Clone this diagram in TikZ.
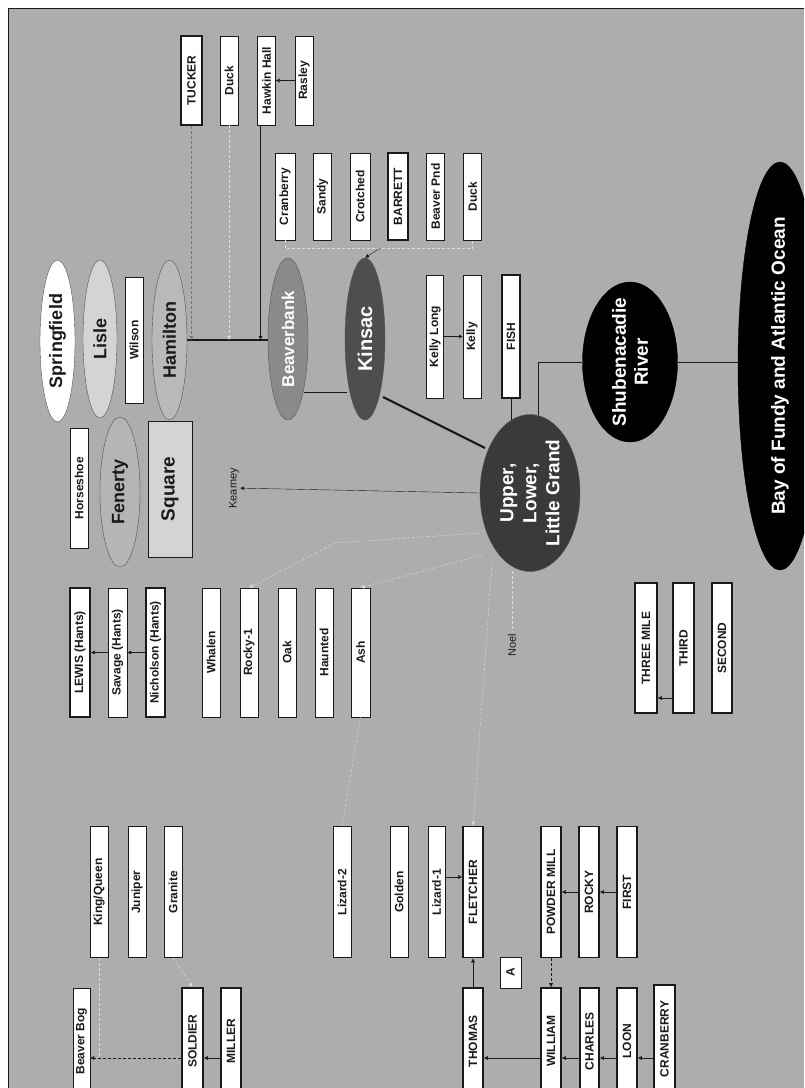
\documentclass[tikz,border=0pt]{standalone}
\usepackage{fontspec}
\setmainfont{Liberation Sans}
\usepackage{tikz}
\usetikzlibrary{positioning,arrows.meta,calc,shapes.geometric}
\definecolor{LKpaper}{HTML}{ADADAD}
\definecolor{LKink}{HTML}{1A1A1A}
\definecolor{LKlight}{HTML}{D4D4D4}
\definecolor{LKmid}{HTML}{8A8A8A}
\definecolor{LKdark}{HTML}{4E4E4E}
\definecolor{LKdeep}{HTML}{3A3A3A}
\definecolor{LKfaint}{HTML}{DCDCDC}
\tikzset{
  lakebox/.style={draw=LKink, fill=white, rotate=90, inner sep=0pt, minimum height=18pt, font=\fontsize{12}{13}\selectfont\bfseries, text=LKink},
  bigbox/.style={lakebox, line width=1.6pt},
  lakeoval/.style={ellipse, draw=LKink!75, rotate=90, inner xsep=-4pt, inner ysep=0pt, align=center, font=\fontsize{18}{20}\selectfont\bfseries, text=LKink},
  seaoval/.style={ellipse, draw=black, fill=black, rotate=90, inner xsep=-14pt, inner ysep=0pt, align=center, text=white, font=\fontsize{19}{22}\selectfont\bfseries},
  flowarr/.style={-{Latex[length=4pt,width=4pt]}, thin, draw=LKink},
  faintline/.style={densely dashed, thin, draw=LKfaint},
  faintarr/.style={faintline, -{Latex[length=4pt,width=4pt]}},
  thickbar/.style={line width=2.2pt, draw=LKink},
  tinylabel/.style={rotate=90, inner sep=1pt, font=\fontsize{11}{12}\selectfont, text=LKink}
}

\begin{document}
\begin{tikzpicture}[x=1pt, y=-1pt]
  \useasboundingbox (0,0) rectangle (804,1088);
  \clip (0,0) rectangle (804,1088);
  \fill[white] (0,0) rectangle (804,1088);
  \fill[LKpaper] (8,8) rectangle (804,1088);
  \draw[LKink, line width=0.8pt] (8,1088) -- (8,8) -- (804,8);

  % headwaters, top right
  \node[bigbox, minimum width=89pt, minimum height=21pt] (tucker) at (191.5,80.5) {TUCKER};
  \node[lakebox, minimum width=89pt] (duckA) at (229,80.5) {Duck};
  \node[lakebox, minimum width=89pt] (hawkin) at (266.5,80.5) {Hawkin Hall};
  \node[lakebox, minimum width=89pt] (rasley) at (304,80.5) {Rasley};

  \node[lakebox, minimum width=87pt, minimum height=20pt] (cranberryA) at (285,196.5) {Cranberry};
  \node[lakebox, minimum width=87pt] (sandy) at (322.5,196.5) {Sandy};
  \node[lakebox, minimum width=87pt, minimum height=20pt] (crotched) at (360,196.5) {Crotched};
  \node[bigbox, minimum width=87pt, minimum height=20pt] (barrett) at (398,196.5) {BARRETT};
  \node[lakebox, minimum width=87pt] (beaverpnd) at (435.5,196.5) {Beaver Pnd};
  \node[lakebox, minimum width=87pt] (duckB) at (472.5,196.5) {Duck};

  \node[lakebox, minimum width=123pt, minimum height=17pt] (kellylong) at (435,336.5) {Kelly Long};
  \node[lakebox, minimum width=123pt] (kelly) at (472,336.5) {Kelly};
  \node[bigbox, minimum width=123pt] (fish) at (511,336.5) {FISH};

  % lakes of the main stem
  \node[lakeoval, fill=white, minimum width=162pt, minimum height=35pt] (springfield) at (57.5,341) {Springfield};
  \node[lakeoval, fill=LKlight, minimum width=158pt, minimum height=34pt] (lisle) at (100,339) {Lisle};
  \node[lakebox, minimum width=126pt] (wilson) at (134,340) {Wilson};
  \node[lakeoval, fill=LKpaper!85!white, minimum width=160pt, minimum height=35pt] (hamilton) at (169.5,340) {Hamilton};
  \node[lakebox, minimum width=120pt] (horseshoe) at (79,488) {Horseshoe};
  \node[lakeoval, fill=LKpaper!90!white, minimum width=150pt, minimum height=40pt] (fenerty) at (120,492) {Fenerty};
  \node[lakebox, fill=LKlight, minimum width=136pt, minimum height=44pt, font=\fontsize{19}{20}\selectfont\bfseries] (square) at (170,489) {Square};
  \node[lakeoval, fill=LKmid, text=white, minimum width=162pt, minimum height=40pt, font=\fontsize{17}{19}\selectfont\bfseries] (beaverbank) at (288,339) {Beaverbank};
  \node[lakeoval, fill=LKdark, text=white, minimum width=162pt, minimum height=40pt, font=\fontsize{20}{22}\selectfont\bfseries] (kinsac) at (365,339) {Kinsac};
  \node[lakeoval, fill=LKdeep, text=white, inner xsep=-8pt, inner ysep=-4pt, minimum width=157pt, minimum height=100pt, font=\fontsize{19}{23}\selectfont\bfseries] (upper) at (530,493) {Upper,\\Lower,\\Little Grand};
  \node[seaoval, minimum width=160pt, minimum height=95pt] (shub) at (630,362) {Shubenacadie\\River};
  \node[seaoval, inner xsep=-30pt, minimum width=408pt, minimum height=84pt] (bay) at (780,366) {Bay of Fundy and Atlantic Ocean};

  \node[tinylabel] (kearney) at (234,488) {Kearney};
  \node[tinylabel] (noel) at (512,645) {Noel};

  % middle rows
  \node[bigbox, minimum width=129pt, minimum height=20pt] (lewis) at (80,652.5) {LEWIS (Hants)};
  \node[lakebox, minimum width=129pt, minimum height=19pt] (savage) at (117.5,652.5) {Savage (Hants)};
  \node[bigbox, minimum width=129pt, minimum height=19pt] (nicholson) at (155.5,652.5) {Nicholson (Hants)};
  \node[lakebox, minimum width=129pt] (whalen) at (211,652.5) {Whalen};
  \node[lakebox, minimum width=129pt] (rockyone) at (249,652.5) {Rocky-1};
  \node[lakebox, minimum width=129pt] (oak) at (287,652.5) {Oak};
  \node[lakebox, minimum width=129pt] (haunted) at (324,652.5) {Haunted};
  \node[lakebox, minimum width=129pt, minimum height=19pt] (ash) at (360.5,652.5) {Ash};

  \node[bigbox, minimum width=130pt, minimum height=22pt] (threemile) at (646,648) {THREE MILE};
  \node[bigbox, minimum width=130pt, minimum height=21pt] (third) at (683.5,648) {THIRD};
  \node[bigbox, minimum width=130pt, minimum height=20pt] (second) at (722,648) {SECOND};

  % lower rows
  \node[lakebox, minimum width=131pt] (kingqueen) at (99,892) {King/Queen};
  \node[lakebox, minimum width=131pt] (juniper) at (137,892) {Juniper};
  \node[lakebox, minimum width=131pt] (granite) at (173,892) {Granite};
  \node[lakebox, minimum width=131pt] (lizardtwo) at (342,892) {Lizard-2};
  \node[lakebox, minimum width=131pt] (golden) at (399,892) {Golden};
  \node[lakebox, minimum width=131pt, minimum height=17pt] (lizardone) at (436.5,892) {Lizard-1};
  \node[bigbox, minimum width=131pt, minimum height=20pt] (fletcher) at (473,892) {FLETCHER};
  \node[bigbox, minimum width=131pt, minimum height=20pt] (powdermill) at (551,892) {POWDER MILL};
  \node[bigbox, minimum width=131pt, minimum height=20pt] (rocky) at (589,892) {ROCKY};
  \node[bigbox, minimum width=131pt, minimum height=20pt] (first) at (627,892) {FIRST};
  \node[lakebox, minimum width=31pt, minimum height=21pt] (abox) at (510.5,972.5) {A};

  \node[lakebox, minimum width=106pt, minimum height=17pt] (beaverbog) at (81.5,1041) {Beaver Bog};
  \node[bigbox, minimum width=106pt, minimum height=21pt] (soldier) at (192.5,1041) {SOLDIER};
  \node[bigbox, minimum width=106pt, minimum height=20pt] (miller) at (231,1041) {MILLER};
  \node[bigbox, minimum width=106pt, minimum height=20pt] (thomas) at (473,1041) {THOMAS};
  \node[bigbox, minimum width=106pt, minimum height=20pt] (william) at (551,1041) {WILLIAM};
  \node[bigbox, minimum width=106pt, minimum height=19pt] (charles) at (589.5,1041) {CHARLES};
  \node[bigbox, minimum width=106pt, minimum height=20pt] (loon) at (627,1041) {LOON};
  \node[bigbox, minimum width=108pt, minimum height=21pt] (cranberryB) at (664.5,1039) {CRANBERRY};

  % connectors, top
  \draw[flowarr] (rasley) -- (hawkin);
  \draw[thickbar] (hamilton.south) -- (hamilton.south -| beaverbank.north);
  \draw[faintarr, draw=LKink!60] (tucker.west) -- (tucker.west |- hamilton.south);
  \draw[faintarr, draw=LKfaint] (duckA.west) -- (duckA.west |- hamilton.south);
  \draw[flowarr] ($(hawkin.west)+(-6,0)$) -- ($(hawkin.west |- hamilton.south)+(-6,0)$);
  \draw[faintline] (cranberryA.west) -- ++(0,8) -| (duckB.west);
  \draw[flowarr] ($(crotched.west)+(20,8)$) -- (kinsac.east);
  \draw[flowarr] (kellylong) -- (kelly);
  \draw[thin, draw=LKink] ($(beaverbank.center)+(16,53)$) -- ($(kinsac.center)+(-18,53)$);
  \draw[thickbar] ($(kinsac.center)+(18,58)$) -- ($(upper.center)+(-45,-45)$);
  \draw[thin, draw=LKink] (fish.west) -- ($(fish.west |- upper.east)+(0,6)$);
  \draw[thin, draw=LKink] ($(upper.east)+(8,1)$) |- (shub.north);
  \draw[thin, draw=LKink] (shub.south) -- (shub.south -| bay.north);
  \draw[flowarr] (upper.north) -- (kearney);

  % connectors, middle
  \draw[flowarr] (savage) -- (lewis);
  \draw[flowarr] (nicholson) -- (savage);
  \draw[faintarr] ($(upper.center)+(-48,62)$) -- (ash.east);
  \coordinate (rbend) at (335,543);
  \draw[faintarr] ($(upper.center)+(-50,40)$) -- (rbend) -- (rockyone.east);
  \draw[faintline] ($(upper.center)+(-18,78)$) -- (noel);
  \draw[faintarr] ($(upper.center)+(-38,70)$) -- (fletcher.east);
  \draw[faintline] (lizardtwo.east) -- (ash.west);
  \draw[flowarr] ($(third.north)+(0,50)$) -- ($(threemile.south)+(0,50)$);

  % connectors, bottom
  \draw[flowarr] ($(lizardone.south)+(0,-15)$) -- ($(fletcher.north)+(0,-15)$);
  \draw[flowarr] (thomas) -- (fletcher);
  \draw[flowarr] (rocky) -- (powdermill);
  \draw[flowarr] (first) -- (rocky);
  \draw[flowarr, densely dashed] (powdermill) -- (william);
  \draw[faintline] (kingqueen.west) -- ($(kingqueen.west |- beaverbog)+(0,17)$);
  \draw[faintarr] (granite.west) -- (soldier.east);
  \draw[flowarr, densely dashed] ($(soldier.north)+(0,17)$) -- ($(beaverbog.south)+(0,17)$);
  \draw[flowarr] ($(miller.north)+(0,17)$) -- ($(soldier.south)+(0,17)$);
  \draw[flowarr] ($(william.north)+(0,17)$) -- ($(thomas.south)+(0,17)$);
  \draw[flowarr] ($(charles.north)+(0,17)$) -- ($(william.south)+(0,17)$);
  \draw[flowarr] ($(loon.north)+(0,17)$) -- ($(charles.south)+(0,17)$);
  \draw[flowarr] ($(cranberryB.north)+(0,19)$) -- ($(loon.south)+(0,17)$);
\end{tikzpicture}
\end{document}
